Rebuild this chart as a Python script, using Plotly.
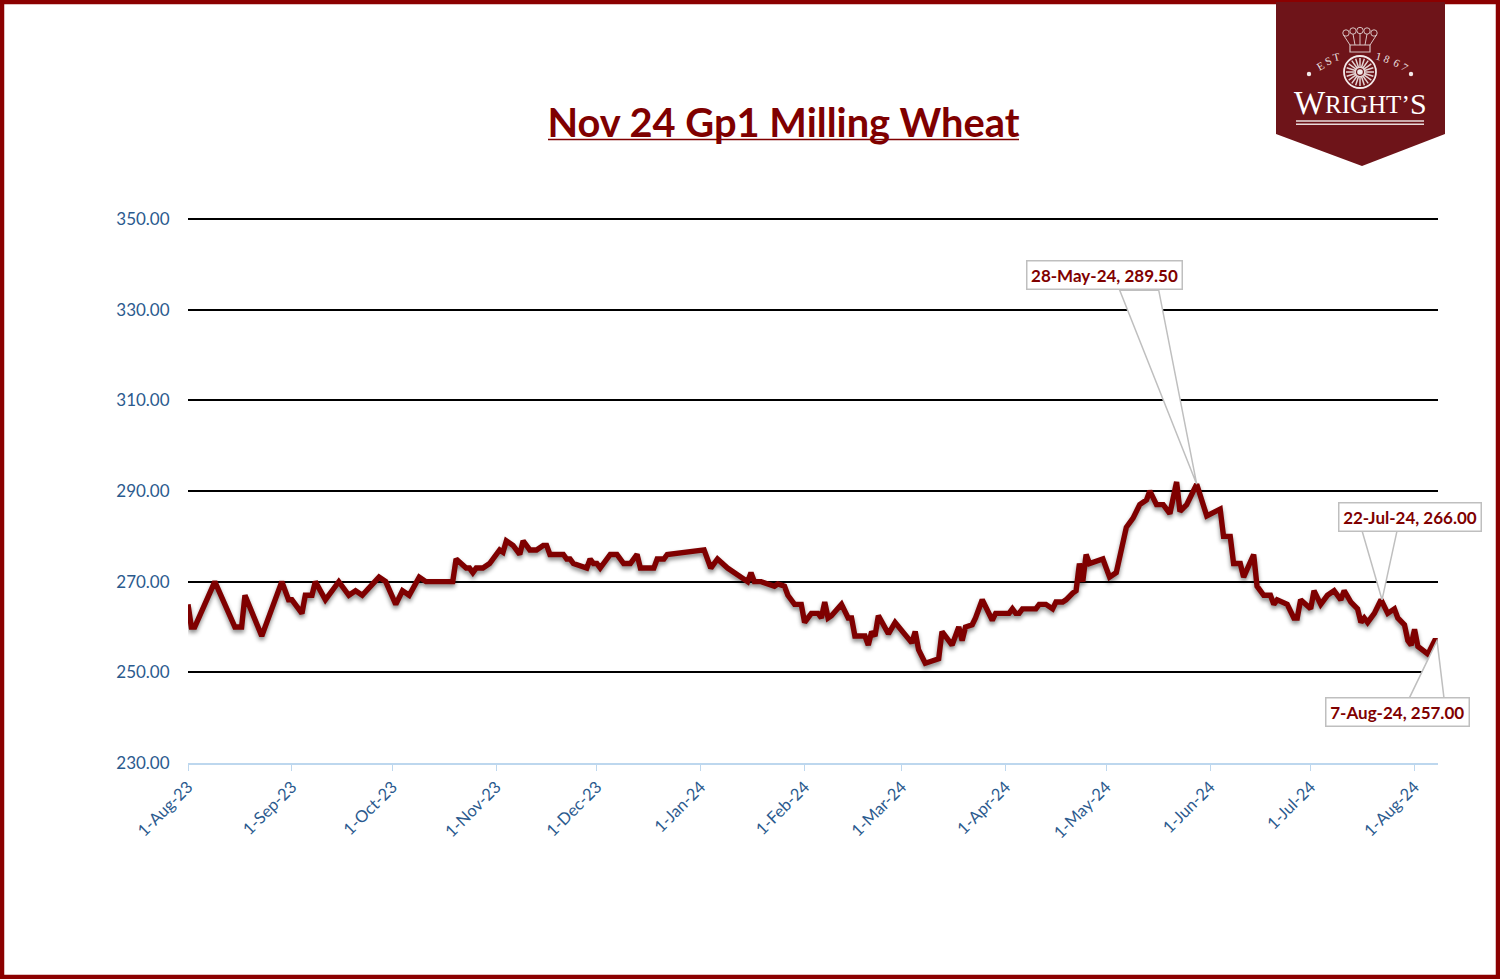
import math
from datetime import date
import plotly.graph_objects as go

TITLE = "Nov 24 Gp1 Milling Wheat"
dates = [
 "2023-08-01","2023-08-02","2023-08-03","2023-08-09","2023-08-15","2023-08-17","2023-08-18","2023-08-23","2023-08-29","2023-08-31",
 "2023-09-01","2023-09-04","2023-09-05","2023-09-07","2023-09-08","2023-09-11","2023-09-15","2023-09-18","2023-09-20","2023-09-22",
 "2023-09-27","2023-09-29","2023-10-02","2023-10-04","2023-10-06","2023-10-09","2023-10-11","2023-10-19","2023-10-20","2023-10-23",
 "2023-10-24","2023-10-25","2023-10-26","2023-10-28","2023-10-30","2023-11-01","2023-11-02","2023-11-03","2023-11-04","2023-11-06",
 "2023-11-08","2023-11-09","2023-11-11","2023-11-13","2023-11-15","2023-11-16","2023-11-17","2023-11-21","2023-11-22","2023-11-23",
 "2023-11-24","2023-11-28","2023-11-29","2023-11-30","2023-12-01","2023-12-02","2023-12-05","2023-12-07","2023-12-09","2023-12-11",
 "2023-12-13","2023-12-14","2023-12-18","2023-12-19","2023-12-21","2023-12-22","2024-01-02","2024-01-04","2024-01-06","2024-01-09",
 "2024-01-10","2024-01-13","2024-01-15","2024-01-16","2024-01-17","2024-01-19","2024-01-23","2024-01-24","2024-01-26","2024-01-27",
 "2024-01-29","2024-01-31","2024-02-01","2024-02-03","2024-02-05","2024-02-06","2024-02-07","2024-02-08","2024-02-09","2024-02-12",
 "2024-02-14","2024-02-15","2024-02-16","2024-02-19","2024-02-20","2024-02-21","2024-02-22","2024-02-23","2024-02-26","2024-02-28",
 "2024-03-04","2024-03-05","2024-03-06","2024-03-08","2024-03-12","2024-03-13","2024-03-16","2024-03-18","2024-03-19","2024-03-20",
 "2024-03-22","2024-03-23","2024-03-25","2024-03-28","2024-03-29","2024-04-02","2024-04-03","2024-04-04","2024-04-05","2024-04-06",
 "2024-04-10","2024-04-11","2024-04-13","2024-04-15","2024-04-16","2024-04-18","2024-04-19","2024-04-21","2024-04-22","2024-04-23",
 "2024-04-24","2024-04-25","2024-04-26","2024-04-30","2024-05-02","2024-05-04","2024-05-07","2024-05-09","2024-05-11","2024-05-13",
 "2024-05-14","2024-05-16","2024-05-18","2024-05-20","2024-05-22","2024-05-23","2024-05-25","2024-05-28","2024-05-31","2024-06-04",
 "2024-06-05","2024-06-07","2024-06-08","2024-06-10","2024-06-11","2024-06-14","2024-06-15","2024-06-17","2024-06-19","2024-06-20",
 "2024-06-21","2024-06-24","2024-06-26","2024-06-27","2024-06-28","2024-07-01","2024-07-02","2024-07-04","2024-07-06","2024-07-08",
 "2024-07-10","2024-07-11","2024-07-13","2024-07-15","2024-07-16","2024-07-17","2024-07-18","2024-07-20","2024-07-22","2024-07-24",
 "2024-07-26","2024-07-27","2024-07-29","2024-07-30","2024-07-31","2024-08-01","2024-08-02","2024-08-05","2024-08-07","2024-08-08",
]
values = [
 265,260,260,270,260,260,267,258,270,266,
 266,263,267,267,270,266,270,267,268,267,
 271,270,265,268,267,271,270,270,275,273,
 273,272,273,273,274,276,277,276.5,279,278,
 276,279,277,277,278,278,276,276,275,275,
 274,273,275,274,274,273,276,276,274,274,
 276,273,273,275,275,276,277,273,275,273,
 272.5,271,270,272,270,270,269,269.5,269,267,
 265,265,261,263,263,262,265.5,262,262.5,265,
 262,262,258,258,256,259,258,262.5,258.5,261,
 256.5,259,255,252,253,259,256,260,257,260,
 260.5,262,266,261.5,263,263,264,263,263,264,
 264,265,265,264,265.5,265.5,266,267.5,268,274,
 270,276,274,275,271,272,282,284,287,288,
 290,287,287,285,292,285.5,287,291.5,284.5,286,
 280,280,274,274,271,276,269,267,267,265,
 266,265,262,262,266,264,268,265,267,268,
 266,268,265.5,264,261,262,261,263,266,263,
 264,262,260.5,257,256,259.5,255.7,254,257,257,
]
y_ticks = [230, 250, 270, 290, 310, 330, 350]
y_labels = ["230.00","250.00","270.00","290.00","310.00","330.00","350.00"]
x_ticks = ["2023-08-01","2023-09-01","2023-10-01","2023-11-01","2023-12-01","2024-01-01","2024-02-01",
           "2024-03-01","2024-04-01","2024-05-01","2024-06-01","2024-07-01","2024-08-01"]
x_labels = ["1-Aug-23","1-Sep-23","1-Oct-23","1-Nov-23","1-Dec-23","1-Jan-24","1-Feb-24",
            "1-Mar-24","1-Apr-24","1-May-24","1-Jun-24","1-Jul-24","1-Aug-24"]
callout_dates = ["2024-05-28","2024-07-22","2024-08-07"]
callout_values = [291.5, 266, 257]
callout_labels = ["28-May-24, 289.50","22-Jul-24, 266.00","7-Aug-24, 257.00"]

W, H = 1500, 979
L, R, T, B = 188, 1438, 219, 763
X_START, X_END = "2023-08-01", "2024-08-08"
RED = "#7F0000"
LOGO = "#6E1419"
BLUE = "#2B5A8E"
GREY = "#BFBFBF"
FONT = "Lato"

def px(x): return (x - L) / (R - L)
def py(y): return (B - y) / (B - T)
def date_frac(d):
    s, e = date.fromisoformat(X_START), date.fromisoformat(X_END)
    return (date.fromisoformat(d) - s).days / (e - s).days

def poly(points, close=True):
    s = "M" + " L".join(f"{px(x):.5f},{py(y):.5f}" for x, y in points)
    return s + (" Z" if close else "")

fig = go.Figure(go.Scatter(
    x=dates, y=values, mode="lines",
    line=dict(color=RED, width=5.4, shape="linear"),
    hoverinfo="skip", showlegend=False, cliponaxis=False,
))

shapes = []
annotations = []

# Top gridline sits on the axis edge, where the library drops it
shapes.append(dict(type="line", xref="paper", yref="paper", x0=0, x1=1, y0=1, y1=1,
                   line=dict(color="black", width=1.8), layer="below"))
# Page frame
shapes.append(dict(type="rect", xref="paper", yref="paper", x0=px(2), x1=px(W-2), y0=py(2), y1=py(H-2),
                   line=dict(color="#8B0000", width=4.5), fillcolor="rgba(0,0,0,0)", layer="above"))
# Title underline
shapes.append(dict(type="line", xref="paper", yref="paper", x0=px(548), x1=px(1019), y0=py(139.5), y1=py(139.5),
                   line=dict(color=RED, width=1.6), layer="above"))

# Callouts: wedge corners (px from the data point), tip shift, box centre offset, box width
wedges = [((-77, 194), (-38, 194), 0, (-92.6, 209), 152),
          ((-19, 69), (16, 69), 1, (28.5, 83), 139),
          ((-25.6, -58), (9.4, -58), 2.4, (-37.6, -71), 139.5)]
for d, v, label, (a, b, tip, c, w) in zip(callout_dates, callout_values, callout_labels, wedges):
    shapes.append(dict(type="path", xref="paper", yref="y", xsizemode="pixel", ysizemode="pixel",
                       xanchor=date_frac(d), yanchor=v,
                       path=f"M{tip},0 L{a[0]},{a[1]} L{b[0]},{b[1]} Z",
                       line=dict(color=GREY, width=1.5), fillcolor="white", layer="above"))
    annotations.append(dict(x=d, y=v, xref="x", yref="y", text=f"<b>{label}</b>", showarrow=False,
                            xshift=c[0], yshift=c[1], width=w, height=25, align="center", valign="middle",
                            bgcolor="white", bordercolor=GREY, borderwidth=1.5, borderpad=1,
                            font=dict(family=FONT, size=17, color=RED)))

# Logo banner
shapes.append(dict(type="path", xref="paper", yref="paper", layer="above", line=dict(width=0), fillcolor=LOGO,
                   path=poly([(1276, 2), (1445, 2), (1445, 134), (1362, 166), (1276, 134)])))
LW = "#F3E9E9"
CR = "#D9C4C4"
def circle(cx, cy, r, line=None, fill="rgba(0,0,0,0)"):
    return dict(type="circle", xref="paper", yref="paper", layer="above", x0=px(cx-r), x1=px(cx+r), y0=py(cy+r), y1=py(cy-r),
                line=line or dict(width=0), fillcolor=fill)
# Wheel
cx, cy, r = 1360, 72, 16
shapes.append(circle(cx, cy, r, dict(color=LW, width=1.8), LOGO))
spokes = []
for i in range(20):
    t = 2 * math.pi * i / 20
    spokes.append(poly([(cx + 4 * math.cos(t), cy + 4 * math.sin(t)), (cx + 14 * math.cos(t), cy + 14 * math.sin(t))], close=False))
shapes.append(dict(type="path", xref="paper", yref="paper", layer="above", path=" ".join(spokes),
                   line=dict(color="#E4D3D3", width=1.5), fillcolor="rgba(0,0,0,0)"))
for (dx, dy, dr) in [(cx, cy, 2.8), (1309, 74, 2.2), (1411, 74, 2.2)]:
    shapes.append(circle(dx, dy, dr, None, LW))
# Coronet
for lx, ly in [(1346, 33), (1353, 31), (1360, 30.5), (1367, 31), (1374, 33)]:
    shapes.append(circle(lx, ly, 3.2, dict(color=CR, width=1), LOGO))
for points in ([(1343.5, 35), (1350, 45)], [(1376.5, 35), (1370, 45)], [(1353, 34), (1355, 45)], [(1360, 34), (1360, 45)], [(1367, 34), (1365, 45)]):
    shapes.append(dict(type="path", xref="paper", yref="paper", layer="above", path=poly(points, close=False),
                       line=dict(color=CR, width=1)))
shapes.append(dict(type="rect", xref="paper", yref="paper", layer="above", x0=px(1350), x1=px(1370), y0=py(52), y1=py(45),
                   line=dict(color=CR, width=1.2), fillcolor="rgba(0,0,0,0)"))
# Rules under the word mark
for y0, y1 in [(120.2, 121.8), (123.4, 125)]:
    shapes.append(dict(type="rect", xref="paper", yref="paper", layer="above", x0=px(1296), x1=px(1424), y0=py(y1), y1=py(y0),
                       line=dict(width=0), fillcolor="#EADCDC"))

for txt, x, y, size in [("W", 1309.5, 103, 33), ("RIGHT’", 1367.5, 104.6, 25), ("S", 1418.5, 103, 30)]:
    annotations.append(dict(x=px(x), y=py(y), xref="paper", yref="paper", xanchor="center", yanchor="middle",
                            showarrow=False, text=txt, borderpad=0,
                            font=dict(family="Liberation Serif", size=size, color="white")))
for txt, x, y, ang in [("E", 1320, 66, -30), ("S", 1328, 61, -24), ("T", 1336, 57, -14),
                       ("1", 1379, 56, 14), ("8", 1387, 59, 22), ("6", 1397, 63, 28), ("7", 1405, 67, 34)]:
    annotations.append(dict(x=px(x), y=py(y), xref="paper", yref="paper", xanchor="center", yanchor="middle",
                            showarrow=False, text=txt, textangle=ang, borderpad=0,
                            font=dict(family="Liberation Serif", size=11, color="#EFE3E3")))

fig.update_layout(
    width=W, height=H,
    margin=dict(l=L, r=W-R, t=T, b=H-B, pad=0),
    paper_bgcolor="white", plot_bgcolor="white",
    font=dict(family=FONT, color=BLUE),
    title=dict(text=f"<b>{TITLE}</b>", x=783.5/W, xanchor="center", y=1-123/H, yanchor="middle",
               font=dict(family=FONT, size=39.8, color=RED)),
    xaxis=dict(type="date", range=[X_START, X_END], tickmode="array", tickvals=x_ticks, ticktext=x_labels,
               tickangle=-45, tickfont=dict(family=FONT, size=16.5, color=BLUE), showgrid=False,
               showline=True, linecolor="#BDD7EE", linewidth=1.5, ticks="outside", tickcolor="#BDD7EE", ticklen=6, tickwidth=1.3,
               zeroline=False),
    yaxis=dict(range=[230, 350], tickmode="array", tickvals=y_ticks, ticktext=y_labels,
               tickfont=dict(family=FONT, size=17, color=BLUE), showgrid=True, gridcolor="black", gridwidth=1.8,
               showline=False, zeroline=False, ticks="outside", ticklen=14, tickcolor="rgba(0,0,0,0)"),
    shapes=shapes, annotations=annotations, showlegend=False,
)

post = """
document.body.style.margin='0';
document.documentElement.style.overflow='hidden';
var st=document.createElement('style');
st.textContent='.scatterlayer .js-line{filter:drop-shadow(0px 3px 2px rgba(0,0,0,0.45));}';
document.head.appendChild(st);
"""
fig.write_html("out.html", post_script=post, config=dict(displayModeBar=False))
